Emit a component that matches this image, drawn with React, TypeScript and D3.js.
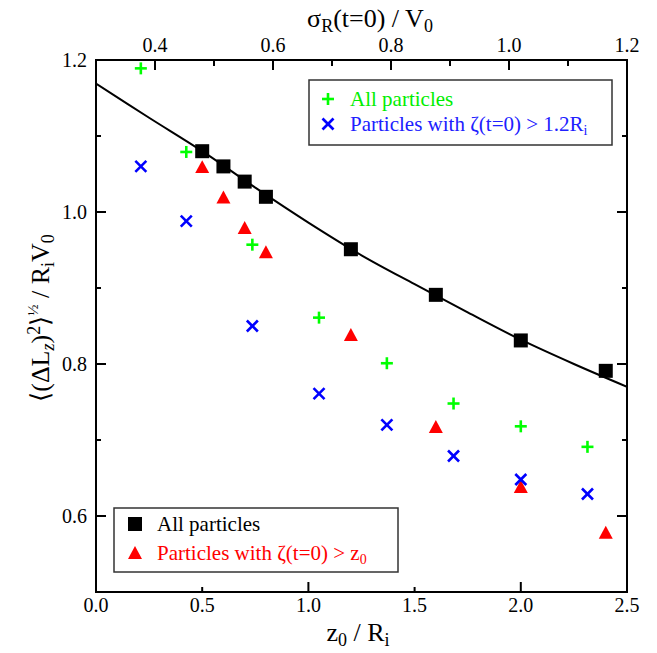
import React from 'react';
import * as d3 from 'd3';

// z0/Ri positions (bottom axis) and <(ΔLz)^2>^1/2 / RiV0 values
const zRatio = [0.5, 0.6, 0.7, 0.8, 1.2, 1.6, 2.0, 2.4];
const allByZ = [1.08, 1.06, 1.04, 1.02, 0.951, 0.891, 0.831, 0.791];
const subsetByZ = [1.059, 1.019, 0.979, 0.947, 0.838, 0.717, 0.638, 0.578];

// σR(t=0)/V0 positions (top axis)
const sigmaR = [0.376, 0.453, 0.565, 0.678, 0.793, 0.906, 1.02, 1.133];
const allBySigma = [1.189, 1.079, 0.957, 0.861, 0.801, 0.748, 0.718, 0.691];
const subsetBySigma = [1.06, 0.988, 0.85, 0.761, 0.72, 0.679, 0.648, 0.629];

// fitted curve
const fitZ = [0, 0.25, 0.5, 0.75, 1.0, 1.25, 1.5, 1.75, 2.0, 2.25, 2.5];
const fitL = [1.169, 1.124, 1.08, 1.032, 0.986, 0.943, 0.905, 0.868, 0.832, 0.8, 0.77];

const bottomTicks = [0, 0.5, 1.0, 1.5, 2.0, 2.5];
const topTicks = [0.4, 0.6, 0.8, 1.0, 1.2];
const leftTicks = [0.6, 0.8, 1.0, 1.2];

const W = 657, H = 653;
const L = 96, R = 627, T = 60, B = 592;
const ts = { fontFamily: 'Liberation Serif' } as React.CSSProperties;

export default function App() {
  const x = d3.scaleLinear().domain([0, 2.5]).range([L, R]);
  const xTop = d3.scaleLinear().domain([0.3, 1.2]).range([L, R]);
  const y = d3.scaleLinear().domain([0.5, 1.2]).range([B, T]);

  const line = d3.line<number>()
    .x((_, i) => x(fitZ[i]))
    .y((d) => y(d))
    .curve(d3.curveCatmullRom);

  const bottomMinor = d3.range(0, 2.51, 0.5);
  const topMinor = d3.range(3, 12.1, 1).map((v) => v / 10);
  const leftMinor = d3.range(5, 12.1, 1).map((v) => v / 10);
  const isMajorTenth = (v: number) => Math.round(v * 10) % 2 === 0;

  const tri = (cx: number, cy: number, s = 7) =>
    `M${cx},${cy - s} L${cx + s},${cy + s * 0.85} L${cx - s},${cy + s * 0.85} Z`;
  const plus = (cx: number, cy: number, k: string | number) => (
    <g key={k} stroke="#00ff00" strokeWidth={2.6}>
      <line x1={cx - 6} x2={cx + 6} y1={cy} y2={cy} />
      <line x1={cx} x2={cx} y1={cy - 6} y2={cy + 6} />
    </g>
  );
  const cross = (cx: number, cy: number, k: string | number) => (
    <g key={k} stroke="#0000ff" strokeWidth={2.6}>
      <line x1={cx - 5.5} x2={cx + 5.5} y1={cy - 5.5} y2={cy + 5.5} />
      <line x1={cx - 5.5} x2={cx + 5.5} y1={cy + 5.5} y2={cy - 5.5} />
    </g>
  );

  return (
    <svg width={W} height={H} style={{ position: 'absolute', left: 0, top: 0, background: '#fff' }}>
      <defs>
        <clipPath id="plot">
          <rect x={L} y={T} width={R - L} height={B - T} />
        </clipPath>
      </defs>

      {/* ticks */}
      <g stroke="#000" strokeWidth={2}>
        {bottomMinor.map((v, i) => {
          const len = Math.abs(v - Math.round(v)) < 1e-6 ? 10 : 5;
          return <line key={'b' + i} x1={x(v)} x2={x(v)} y1={B} y2={B - len} />;
        })}
        {topMinor.map((v, i) => {
          const len = isMajorTenth(v) ? 10 : 6;
          return <line key={'t' + i} x1={xTop(v)} x2={xTop(v)} y1={T} y2={T + len} />;
        })}
        {leftMinor.map((v, i) => {
          const len = isMajorTenth(v) ? 10 : 5;
          return (
            <g key={'l' + i}>
              <line x1={L} x2={L + len} y1={y(v)} y2={y(v)} />
              <line x1={R} x2={R - len} y1={y(v)} y2={y(v)} />
            </g>
          );
        })}
      </g>

      {/* frame */}
      <rect x={L} y={T} width={R - L} height={B - T} fill="none" stroke="#000" strokeWidth={2} />

      {/* tick labels */}
      <g fontSize={20} fill="#000">
        {bottomTicks.map((v) => (
          <text key={'bl' + v} style={ts} x={x(v)} y={612} textAnchor="middle">{d3.format('.1f')(v)}</text>
        ))}
        {topTicks.map((v) => (
          <text key={'tl' + v} style={ts} x={xTop(v)} y={52} textAnchor="middle">{d3.format('.1f')(v)}</text>
        ))}
        {leftTicks.map((v) => (
          <text key={'ll' + v} style={ts} x={87} y={y(v) + 7} textAnchor="end">{d3.format('.1f')(v)}</text>
        ))}
      </g>

      {/* axis titles */}
      <text style={ts} x={370} y={27} textAnchor="middle" fontSize={26}>
        σ<tspan fontSize={18} dy={5}>R</tspan><tspan dy={-5}>(t=0) / V</tspan><tspan fontSize={18} dy={5}>0</tspan>
      </text>
      <text style={ts} x={358} y={641} textAnchor="middle" fontSize={26}>
        z<tspan fontSize={18} dy={5}>0</tspan><tspan dy={-5}> / R</tspan><tspan fontSize={18} dy={5}>i</tspan>
      </text>
      <text style={ts} transform="translate(49,318) rotate(-90)" textAnchor="middle" fontSize={26}>
        ⟨(ΔL<tspan fontSize={18} dy={5} fontStyle="italic">z</tspan><tspan dy={-5}>)</tspan><tspan fontSize={18} dy={-9}>2</tspan><tspan dy={9}>⟩</tspan><tspan fontSize={15} dy={-11}>½</tspan><tspan dy={11}> / R</tspan><tspan fontSize={18} dy={5}>i</tspan><tspan dy={-5}>V</tspan><tspan fontSize={18} dy={5}>0</tspan>
      </text>

      {/* fit curve */}
      <path d={line(fitL) || ''} fill="none" stroke="#000" strokeWidth={2} clipPath="url(#plot)" />

      {/* data */}
      {zRatio.map((z, i) => (
        <path key={'tr' + i} d={tri(x(z), y(subsetByZ[i]))} fill="#ff0000" />
      ))}
      {zRatio.map((z, i) => (
        <rect key={'sq' + i} x={x(z) - 7} y={y(allByZ[i]) - 7} width={14} height={14} fill="#000" />
      ))}
      {sigmaR.map((s, i) => cross(xTop(s), y(subsetBySigma[i]), 'cx' + i))}
      {sigmaR.map((s, i) => plus(xTop(s), y(allBySigma[i]), 'pl' + i))}

      {/* top-right legend */}
      <rect x={309} y={80} width={303} height={65} fill="#fff" stroke="#333" strokeWidth={1.5} />
      {plus(328, 99, 'lg1')}
      {cross(328, 124, 'lg2')}
      <text style={ts} x={350} y={106} fontSize={21} fill="#00ee00">All particles</text>
      <text style={ts} x={350} y={131} fontSize={21} fill="#2020ff">
        Particles with ζ(t=0) &gt; 1.2R<tspan fontSize={14} dy={4}>i</tspan>
      </text>

      {/* bottom-left legend */}
      <rect x={114} y={508} width={284} height={64} fill="#fff" stroke="#333" strokeWidth={1.5} />
      <rect x={128} y={517} width={14} height={14} fill="#000" />
      <path d={tri(135, 553)} fill="#ff0000" />
      <text style={ts} x={157} y={531} fontSize={21} fill="#000">All particles</text>
      <text style={ts} x={157} y={560} fontSize={21} fill="#ff0000">
        Particles with ζ(t=0) &gt; z<tspan fontSize={14} dy={4}>0</tspan>
      </text>
    </svg>
  );
}
